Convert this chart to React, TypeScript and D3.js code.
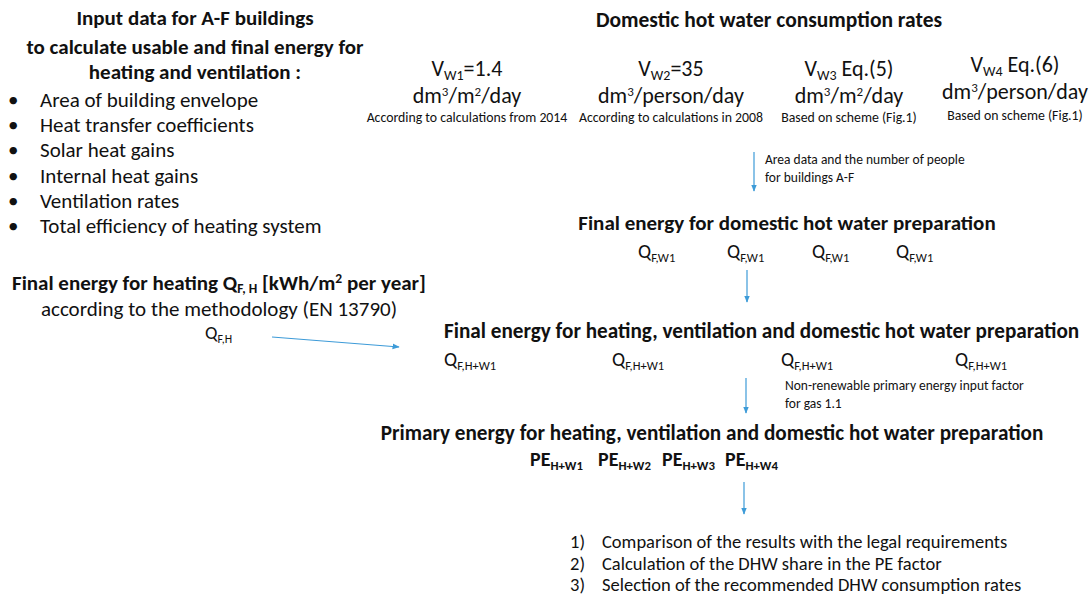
import React from 'react';
import * as d3 from 'd3';

const FONT = "Carlito, Calibri, Lato, 'Open Sans', sans-serif";
const INK = '#111';
const BLUE = '#3d9bd8';

// left block
const inputTitle = ['Input data for A-F buildings', 'to calculate usable and final energy for', 'heating and ventilation :'];
const inputBullets = [
  'Area of building envelope',
  'Heat transfer coefficients',
  'Solar heat gains',
  'Internal heat gains',
  'Ventilation rates',
  'Total efficiency of heating system',
];

// domestic hot water consumption rates
const rateTitle = 'Domestic hot water consumption rates';
const rateSubs = ['W1', 'W2', 'W3', 'W4'];
const rateValues = ['=1.4', '=35', ' Eq.(5)', ' Eq.(6)'];
const rateUnits = ['m2', 'person', 'm2', 'person'];
const rateNotes = [
  'According to calculations from 2014',
  'According to calculations in 2008',
  'Based on scheme (Fig.1)',
  'Based on scheme (Fig.1)',
];
const rateCenters = [467, 671, 849, 1015];
const rateShift = [0, 0, 0, -4];

const areaNote = ['Area data and the number of people', 'for buildings A-F'];
const dhwTitle = 'Final energy for domestic hot water preparation';
const dhwSubs = ['F,W1', 'F,W1', 'F,W1', 'F,W1'];
const dhwX = [638, 727, 812, 896];

const heatTitle = 'Final energy for heating ';
const heatLine2 = 'according to the methodology (EN 13790)';

const totalTitle = 'Final energy for heating, ventilation and domestic hot water preparation';
const totalSubs = ['F,H+W1', 'F,H+W1', 'F,H+W1', 'F,H+W1'];
const totalX = [444, 612, 781, 955];

const gasNote = ['Non-renewable primary energy input factor', 'for gas 1.1'];
const peTitle = 'Primary energy for heating, ventilation and domestic hot water preparation';
const peSubs = ['H+W1', 'H+W2', 'H+W3', 'H+W4'];
const peX = [530, 598, 662, 725];

const outcomes = [
  'Comparison of the results with the legal requirements',
  'Calculation of the DHW share in the PE factor',
  'Selection of the recommended DHW consumption rates',
];

// arrows: [x1, y1, x2, y2]
const arrows: [number, number, number, number][] = [
  [754, 152, 754, 191],
  [747, 270, 747, 302],
  [272, 337, 399, 347],
  [746, 378, 746, 413],
  [744, 482, 744, 514],
];

const Unit = ({ u }: { u: string }) =>
  u === 'm2' ? (
    <>
      dm<tspan dy={-7} fontSize={13}>3</tspan>
      <tspan dy={7}>/m</tspan>
      <tspan dy={-7} fontSize={13}>2</tspan>
      <tspan dy={7}>/day</tspan>
    </>
  ) : (
    <>
      dm<tspan dy={-7} fontSize={13}>3</tspan>
      <tspan dy={7}>/person/day</tspan>
    </>
  );

const Sub = ({ base, sub, x, y, size, bold }: { base: string; sub: string; x: number; y: number; size: number; bold?: boolean }) => (
  <text x={x} y={y} fontSize={size} fontWeight={bold ? 'bold' : 'normal'}>
    {base}
    <tspan dy={4} fontSize={size * 0.64}>{sub}</tspan>
  </text>
);

export default function App() {
  const W = 1089;
  const H = 599;
  const line = d3.line();
  return (
    <svg width={W} height={H} style={{ position: 'absolute', left: 0, top: 0, background: '#fff' }} fontFamily={FONT} fill={INK}>
      <defs>
        <marker id="head" viewBox="0 0 10 10" refX={9} refY={5} markerWidth={6} markerHeight={6} orient="auto">
          <path d="M0,1 L10,5 L0,9 Z" fill={BLUE} />
        </marker>
      </defs>

      {/* left input block */}
      {inputTitle.map((t, i) => (
        <text key={t} x={195} y={[25, 54, 79][i]} textAnchor="middle" fontSize={21} fontWeight="bold">{t}</text>
      ))}
      {inputBullets.map((t, i) => (
        <g key={t}>
          <text x={8} y={107 + i * 25.2} fontSize={21}>•</text>
          <text x={40} y={107 + i * 25.2} fontSize={21}>{t}</text>
        </g>
      ))}

      {/* consumption rates */}
      <text x={769} y={27} textAnchor="middle" fontSize={21.5} fontWeight="bold">{rateTitle}</text>
      {rateSubs.map((s, i) => (
        <g key={i} textAnchor="middle">
          <text x={rateCenters[i]} y={76 + rateShift[i]} fontSize={22}>
            V<tspan dy={4} fontSize={14}>{s}</tspan>
            <tspan dy={-4}>{rateValues[i]}</tspan>
          </text>
          <text x={rateCenters[i]} y={103 + rateShift[i]} fontSize={22}>
            <Unit u={rateUnits[i]} />
          </text>
          <text x={rateCenters[i]} y={122 + rateShift[i] / 2} fontSize={13.8}>{rateNotes[i]}</text>
        </g>
      ))}
      {areaNote.map((t, i) => (
        <text key={t} x={765} y={164 + i * 18} fontSize={13.5}>{t}</text>
      ))}

      {/* final energy DHW */}
      <text x={787} y={230} textAnchor="middle" fontSize={21} fontWeight="bold">{dhwTitle}</text>
      {dhwSubs.map((s, i) => (
        <Sub key={i} base="Q" sub={s} x={dhwX[i]} y={258} size={19.5} />
      ))}

      {/* final energy heating */}
      <text x={12} y={290} fontSize={21} fontWeight="bold">
        {heatTitle}Q<tspan dy={3} fontSize={13.5}>F, H</tspan>
        <tspan dy={-3}> [kWh/m</tspan>
        <tspan dy={-7} fontSize={13.5}>2</tspan>
        <tspan dy={7}> per year]</tspan>
      </text>
      <text x={219} y={316} textAnchor="middle" fontSize={21}>{heatLine2}</text>
      <Sub base="Q" sub="F,H" x={205} y={339} size={18.5} />

      {/* final energy total */}
      <text x={444} y={338} fontSize={21.2} fontWeight="bold">{totalTitle}</text>
      {totalSubs.map((s, i) => (
        <Sub key={i} base="Q" sub={s} x={totalX[i]} y={366} size={19.5} />
      ))}
      {gasNote.map((t, i) => (
        <text key={t} x={785} y={390 + i * 18} fontSize={13.5}>{t}</text>
      ))}

      {/* primary energy */}
      <text x={712} y={440} textAnchor="middle" fontSize={21.2} fontWeight="bold">{peTitle}</text>
      {peSubs.map((s, i) => (
        <Sub key={i} base="PE" sub={s} x={peX[i]} y={466} size={20} bold />
      ))}

      {/* outcomes */}
      {outcomes.map((t, i) => (
        <g key={t}>
          <text x={570} y={548 + i * 21.5} fontSize={18.5}>{i + 1})</text>
          <text x={602} y={548 + i * 21.5} fontSize={18.5}>{t}</text>
        </g>
      ))}

      {arrows.map((a, i) => (
        <path key={i} d={line([[a[0], a[1]], [a[2], a[3]]]) ?? ''} stroke={BLUE} strokeWidth={1.2} fill="none" markerEnd="url(#head)" />
      ))}
    </svg>
  );
}
